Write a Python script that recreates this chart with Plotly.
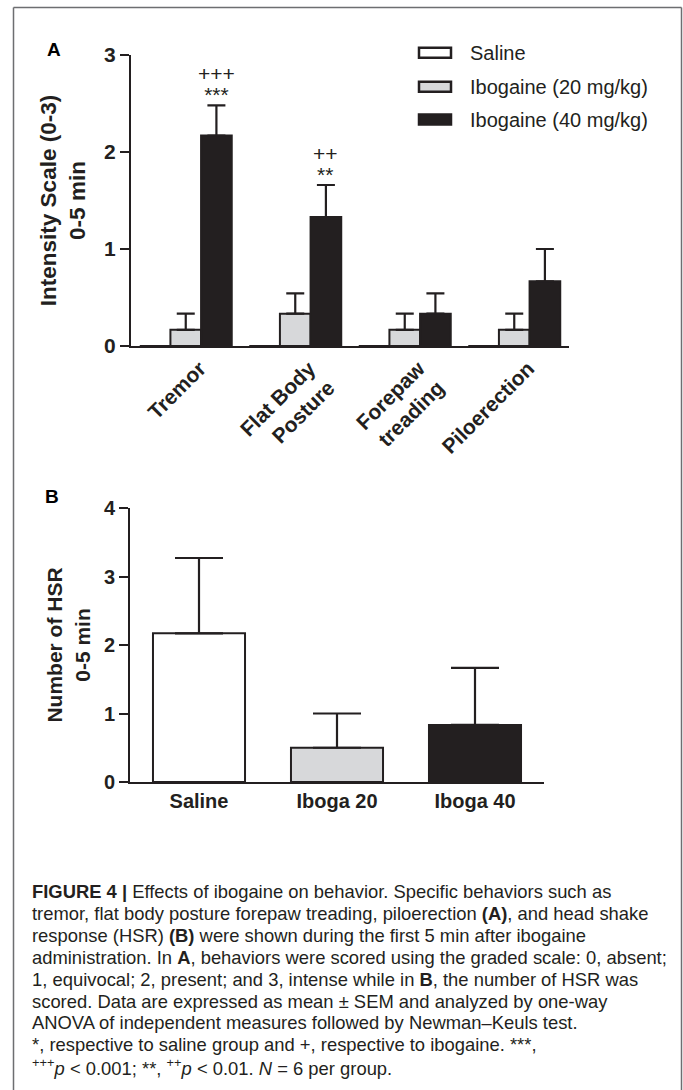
import plotly.graph_objects as go

# ---------------- data ----------------
behaviors = ["Tremor", "Flat Body<br>Posture", "Forepaw<br>treading", "Piloerection"]
groups_a = ["Saline", "Ibogaine (20 mg/kg)", "Ibogaine (40 mg/kg)"]
saline_a = [0, 0, 0, 0]
saline_a_sem = [0, 0, 0, 0]
ibo20_a = [0.167, 0.333, 0.167, 0.167]
ibo20_a_sem = [0.167, 0.21, 0.167, 0.167]
ibo40_a = [2.17, 1.33, 0.333, 0.667]
ibo40_a_sem = [0.31, 0.33, 0.21, 0.333]
sig_a = [("+++", "***"), ("++", "**"), ("", ""), ("", "")]
a_ticks = [0, 1, 2, 3]

hsr_groups = ["Saline", "Iboga 20", "Iboga 40"]
hsr_mean = [2.17, 0.5, 0.833]
hsr_sem = [1.1, 0.5, 0.833]
b_ticks = [0, 1, 2, 3, 4]

caption_lines = [
    "<b>FIGURE 4 |</b> Effects of ibogaine on behavior. Specific behaviors such as",
    "tremor, flat body posture forepaw treading, piloerection <b>(A)</b>, and head shake",
    "response (HSR) <b>(B)</b> were shown during the first 5 min after ibogaine",
    "administration. In <b>A</b>, behaviors were scored using the graded scale: 0, absent;",
    "1, equivocal; 2, present; and 3, intense while in <b>B</b>, the number of HSR was",
    "scored. Data are expressed as mean \u00b1 SEM and analyzed by one-way",
    "ANOVA of independent measures followed by Newman\u2013Keuls test.",
    "*, respective to saline group and +, respective to ibogaine. ***,",
    "<sup>+++</sup><i>p</i> &lt; 0.001; **, <sup>++</sup><i>p</i> &lt; 0.01. <i>N</i> = 6 per group.",
]

# ---------------- style ----------------
W, H = 683, 1090
INK = "#231f20"
GRAY = "#d7d8da"
BORDER = "#6d6e71"
FONT = "Arial, Liberation Sans, sans-serif"
fills = ["#ffffff", GRAY, INK]


def px(x):
    return x / W


def py(y):
    return 1 - y / H


fig = go.Figure()

BARGAP = 0.16
series_a = [(saline_a, saline_a_sem), (ibo20_a, ibo20_a_sem), (ibo40_a, ibo40_a_sem)]
for i, (name, (vals, sems)) in enumerate(zip(groups_a, series_a)):
    fig.add_trace(go.Bar(
        x=behaviors, y=vals, name=name, xaxis="x", yaxis="y",
        marker=dict(color=fills[i], line=dict(color=INK, width=2)),
        error_y=dict(type="data", symmetric=False, array=sems,
                     arrayminus=[0] * len(sems), visible=(i > 0),
                     color=INK, thickness=2.2, width=9),
        showlegend=False, cliponaxis=False,
    ))

fig.add_trace(go.Bar(
    x=hsr_groups, y=hsr_mean, xaxis="x2", yaxis="y2", width=0.667,
    marker=dict(color=fills, line=dict(color=INK, width=2)),
    error_y=dict(type="data", symmetric=False, array=hsr_sem,
                 arrayminus=[0] * 3, color=INK, thickness=2.2, width=24),
    showlegend=False, cliponaxis=False,
))

annotations = []
# significance marks above the 40 mg/kg bars (tight two-line block)
bw = (1 - BARGAP) / 3
for i, (plus, star) in enumerate(sig_a):
    if not plus:
        continue
    top = ibo40_a[i] + ibo40_a_sem[i]
    txt = ('<span style="font-size:21px">%s</span><br>'
           '<span style="font-size:21px">%s</span>' % (plus, star))
    annotations.append(dict(x=i + bw, y=top, xref="x", yref="y", text=txt,
                            showarrow=False, yanchor="bottom", yshift=-3,
                            font=dict(family=FONT, size=16, color=INK)))

# panel letters
annotations.append(dict(x=px(44.5), y=py(37), xref="paper", yref="paper", text="<b>A</b>",
                        showarrow=False, font=dict(family=FONT, size=19, color="black")))
annotations.append(dict(x=px(43), y=py(496), xref="paper", yref="paper", text="<b>B</b>",
                        showarrow=False, font=dict(family=FONT, size=19, color="black")))

# legend (drawn as boxes + labels)
shapes = []
leg_rows = [52.7, 86.7, 119.5]
for i, (name, yc) in enumerate(zip(groups_a, leg_rows)):
    shapes.append(dict(type="rect", xref="paper", yref="paper",
                       x0=px(419), x1=px(451), y0=py(yc - 5), y1=py(yc + 5),
                       fillcolor=fills[i], line=dict(color=INK, width=2.5)))
    annotations.append(dict(x=px(468), y=py(yc), xref="paper", yref="paper", text=name,
                            showarrow=False, xanchor="left", yanchor="middle",
                            font=dict(family=FONT, size=20, color=INK)))

# caption
for k, line in enumerate(caption_lines):
    annotations.append(dict(x=px(30), y=py(891.5 + 21.9 * k), xref="paper", yref="paper",
                            text=line, showarrow=False, xanchor="left", yanchor="middle",
                            font=dict(family=FONT, size=18.4, color=INK)))

# frame around figure (top, left, right)
for (x0, y0, x1, y1) in [(13.5, 7.5, 681.5, 7.5), (13.5, 7.5, 13.5, 1095), (681.5, 7.5, 681.5, 1095)]:
    shapes.append(dict(type="line", xref="paper", yref="paper",
                       x0=px(x0), y0=py(y0), x1=px(x1), y1=py(y1),
                       line=dict(color=BORDER, width=1.5)))

axis_common = dict(showline=True, linecolor=INK, linewidth=2, showgrid=False,
                   zeroline=False, automargin=False)

fig.update_layout(
    width=W, height=H, autosize=False,
    margin=dict(l=0, r=0, t=0, b=0, autoexpand=False),
    paper_bgcolor="white", plot_bgcolor="white",
    barmode="group", bargap=BARGAP, bargroupgap=0,
    font=dict(family=FONT, color=INK),
    xaxis=dict(domain=[px(131), px(569)], type="category", range=[-0.5, 3.5],
               anchor="y", ticks="", tickangle=-45, ticklabelshift=14,
               tickfont=dict(family=FONT, size=21, color=INK, weight="bold"),
               **axis_common),
    yaxis=dict(domain=[py(346), py(55)], range=[0, 3], anchor="x",
               tickvals=a_ticks, ticks="outside", ticklen=9, tickwidth=2, tickcolor=INK,
               tickfont=dict(family=FONT, size=21, color=INK, weight="bold"),
               title=dict(text="<b>Intensity Scale (0-3)<br>0-5 min</b>",
                          font=dict(family=FONT, size=22.5, color=INK), standoff=12),
               **axis_common),
    xaxis2=dict(domain=[px(130), px(544)], type="category", range=[-0.5, 2.5],
                anchor="y2", ticks="",
                tickfont=dict(family=FONT, size=20, color=INK, weight="bold"),
                **axis_common),
    yaxis2=dict(domain=[py(782), py(508)], range=[0, 4], anchor="x2",
                tickvals=b_ticks, ticks="outside", ticklen=9, tickwidth=2, tickcolor=INK,
                tickfont=dict(family=FONT, size=20, color=INK, weight="bold"),
                title=dict(text="<b>Number of HSR<br>0-5 min</b>",
                           font=dict(family=FONT, size=21, color=INK), standoff=8),
                **axis_common),
    annotations=annotations,
    shapes=shapes,
)

fig.write_html("out.html", config={"displayModeBar": False},
               post_script="document.body.style.margin='0';")
